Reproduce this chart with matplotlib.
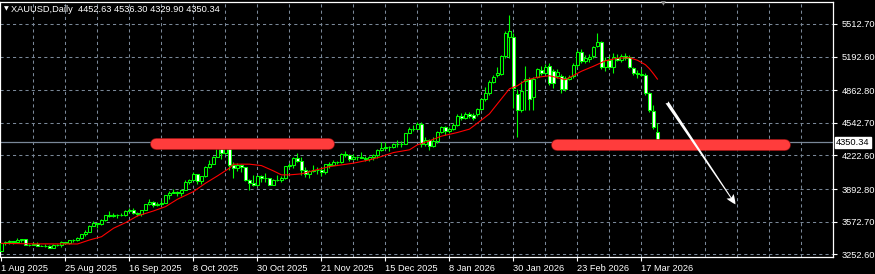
import matplotlib
matplotlib.use("Agg")
import matplotlib.pyplot as plt
import matplotlib.transforms as mtransforms
import matplotlib.patheffects as pe
from matplotlib.patches import Rectangle, FancyArrowPatch

# XAUUSD daily bars, 1 Aug 2025 .. 23 Mar 2026
opens = [3289, 3363, 3373, 3380, 3369, 3397, 3398, 3342, 3348, 3356,
         3338, 3336, 3332, 3316, 3348, 3339, 3372, 3365, 3393, 3397,
         3416, 3448, 3476, 3533, 3560, 3545, 3586, 3636, 3627, 3641,
         3634, 3643, 3679, 3690, 3660, 3644, 3685, 3746, 3763, 3736,
         3749, 3760, 3833, 3858, 3866, 3857, 3886, 3960, 3985, 4040,
         3976, 4017, 4110, 4142, 4208, 4323, 4251, 4356, 4125, 4095,
         4126, 4112, 3981, 3952, 3930, 4024, 4002, 4000, 3932, 3980,
         3977, 4000, 4115, 4128, 4194, 4172, 4084, 4045, 4066, 4078,
         4077, 4065, 4135, 4131, 4163, 4156, 4239, 4231, 4186, 4203,
         4208, 4197, 4189, 4208, 4229, 4280, 4300, 4304, 4302, 4339,
         4331, 4339, 4445, 4487, 4480, 4533, 4331, 4373, 4319, 4360,
         4455, 4497, 4458, 4480, 4518, 4605, 4595, 4630, 4620, 4625,
         4680, 4775, 4840, 4948, 5015, 5025, 5195, 5390, 5385, 4830,
         4670, 4950, 4970, 4800, 4995, 5065, 5035, 5100, 5055, 5005,
         5000, 4985, 4975, 4998, 5110, 5240, 5150, 5170, 5195, 5300,
         5335, 5095, 5160, 5090, 5180, 5160, 5195, 5190, 5080, 5030,
         5015, 5015, 4835, 4662, 4452.63]
highs = [3363, 3385, 3390, 3385, 3409, 3400, 3404, 3358, 3374, 3375,
         3345, 3358, 3345, 3350, 3351, 3379, 3376, 3394, 3398, 3423,
         3454, 3490, 3540, 3578, 3563, 3600, 3639, 3674, 3658, 3647,
         3655, 3685, 3703, 3707, 3672, 3687, 3749, 3791, 3779, 3761,
         3783, 3834, 3872, 3895, 3875, 3890, 3977, 3990, 4059, 4045,
         4022, 4116, 4179, 4218, 4326, 4380, 4381, 4360, 4162, 4146,
         4136, 4113, 3988, 4030, 4029, 4034, 4046, 4002, 3995, 4028,
         4020, 4120, 4149, 4210, 4245, 4210, 4110, 4082, 4132, 4110,
         4109, 4140, 4155, 4175, 4168, 4245, 4264, 4240, 4241, 4218,
         4259, 4220, 4218, 4234, 4285, 4353, 4350, 4311, 4342, 4374,
         4360, 4447, 4497, 4525, 4550, 4548, 4400, 4380, 4400, 4465,
         4510, 4510, 4500, 4540, 4625, 4640, 4645, 4650, 4635, 4690,
         4790, 4895, 4960, 5010, 5090, 5210, 5440, 5600, 5420, 4870,
         4950, 5100, 4990, 4990, 5085, 5100, 5120, 5130, 5070, 5070,
         5020, 5000, 5010, 5130, 5260, 5270, 5210, 5215, 5300, 5425,
         5345, 5190, 5200, 5230, 5220, 5215, 5230, 5210, 5095, 5060,
         5075, 5030, 4850, 4720, 4536.30]
lows = [3281, 3346, 3358, 3358, 3367, 3377, 3341, 3331, 3343, 3330,
        3332, 3324, 3315, 3311, 3332, 3321, 3352, 3351, 3371, 3385,
        3400, 3436, 3470, 3527, 3511, 3537, 3578, 3620, 3620, 3613,
        3625, 3633, 3676, 3646, 3628, 3628, 3683, 3736, 3718, 3722,
        3741, 3758, 3793, 3850, 3820, 3822, 3883, 3942, 3979, 3945,
        3944, 4008, 4096, 4136, 4203, 4186, 4237, 4082, 4004, 4070,
        4060, 3970, 3886, 3918, 3920, 3964, 3962, 3928, 3929, 3970,
        3963, 3995, 4100, 4095, 4156, 4032, 4008, 3998, 4060, 4040,
        4022, 4040, 4098, 4128, 4138, 4150, 4210, 4168, 4180, 4174,
        4195, 4170, 4167, 4176, 4196, 4265, 4286, 4271, 4299, 4308,
        4309, 4338, 4440, 4460, 4478, 4303, 4320, 4274, 4310, 4345,
        4440, 4420, 4440, 4470, 4510, 4570, 4585, 4595, 4575, 4605,
        4665, 4755, 4820, 4935, 4995, 5010, 5180, 5180, 4685, 4405,
        4650, 4670, 4670, 4670, 4980, 5010, 5020, 4910, 4880, 4980,
        4840, 4860, 4960, 4985, 5095, 5130, 5130, 5140, 5180, 5285,
        5070, 5050, 5075, 5030, 5150, 5140, 5160, 5080, 5010, 4980,
        5000, 4820, 4650, 4480, 4329.90]
closes = [3363, 3373, 3380, 3369, 3397, 3398, 3342, 3348, 3356, 3336,
          3335, 3332, 3316, 3348, 3339, 3372, 3365, 3393, 3397, 3416,
          3448, 3476, 3533, 3560, 3545, 3586, 3636, 3627, 3641, 3634,
          3643, 3679, 3690, 3660, 3644, 3685, 3746, 3763, 3736, 3749,
          3760, 3833, 3858, 3866, 3857, 3886, 3960, 3985, 4040, 3976,
          4017, 4110, 4142, 4208, 4323, 4251, 4356, 4125, 4095, 4126,
          4112, 3981, 3952, 3930, 4024, 4002, 4000, 3932, 3980, 3977,
          4000, 4115, 4128, 4194, 4172, 4084, 4045, 4066, 4078, 4077,
          4065, 4135, 4131, 4163, 4156, 4239, 4231, 4186, 4203, 4208,
          4197, 4189, 4208, 4229, 4280, 4300, 4304, 4302, 4339, 4331,
          4339, 4445, 4487, 4480, 4533, 4331, 4373, 4319, 4360, 4455,
          4497, 4458, 4480, 4518, 4605, 4595, 4630, 4610, 4592, 4680,
          4775, 4840, 4948, 4995, 5030, 5195, 5420, 5440, 4885, 4670,
          4860, 4975, 4780, 4970, 5070, 5035, 5095, 4930, 4935, 5045,
          4870, 4875, 4995, 5110, 5240, 5150, 5180, 5190, 5285, 5335,
          5090, 5155, 5090, 5185, 5160, 5195, 5175, 5095, 5030, 5020,
          5025, 4840, 4672, 4500, 4350.34]

# moving average (red line), read at selected bars
ma_bars = [0, 8, 19, 22, 25, 28, 31, 34, 38, 41, 44, 48, 51, 54, 57, 58,
           62, 65, 68, 70, 72, 75, 78, 82, 85, 88, 92, 95, 98, 102, 104,
           107, 110, 114, 117, 119, 122, 124, 127, 129, 131, 134, 137, 141,
           145, 148, 151, 154, 157, 159, 161, 162, 163, 164]
ma_vals = [3360, 3355, 3354, 3393, 3425, 3508, 3563, 3629, 3678, 3720,
           3793, 3868, 3950, 4022, 4098, 4137, 4137, 4123, 4071, 4032,
           4032, 4042, 4074, 4113, 4130, 4147, 4179, 4212, 4251, 4278,
           4327, 4366, 4412, 4448, 4481, 4540, 4631, 4730, 4877, 4907,
           4959, 4990, 5005, 4966, 5049, 5098, 5152, 5177, 5182, 5157,
           5113, 5074, 5025, 4972]

date_labels = ["1 Aug 2025", "25 Aug 2025", "16 Sep 2025", "8 Oct 2025",
               "30 Oct 2025", "21 Nov 2025", "15 Dec 2025", "8 Jan 2026",
               "30 Jan 2026", "23 Feb 2026", "17 Mar 2026"]
label_bars = [0, 16, 32, 48, 64, 80, 96, 112, 128, 144, 160]
price_levels = [5512.70, 5192.60, 4862.80, 4542.70, 4222.60, 3892.80,
                3572.70, 3252.60]
last_price = 4350.34
title = "XAUUSD,Daily  4452.63 4536.30 4329.90 4350.34"

# drawn objects: (start bar, end bar, price)
level_lines = [(38.75, 82.0, 4339.0), (139.0, 196.0, 4325.0)]
arrow_from = (166.0, 4767.0)
arrow_to = (183.9, 3720.0)

W, H = 875, 274
fam = ["Liberation Sans", "DejaVu Sans"]
fs = 6.7
fg = "white"
grid_c = "#7a8899"
bull = "#00ff00"

fig = plt.figure(figsize=(W / 100, H / 100), dpi=100, facecolor="black")
ax = fig.add_axes([0, 1 - 257.3 / H, 833 / W, 255.3 / H])
ax.set_facecolor("black")
ax.set_xlim(-0.375, 207.9)
ax.set_ylim(3223.1, 5728.6)

# grid
for p in price_levels:
    ax.axhline(p, color=grid_c, lw=0.75, ls=(0, (3, 3)), zorder=1)
for k in range(1, 26):
    ax.axvline(8 * k, color=grid_c, lw=0.75, ls=(0, (3, 3)), zorder=1)

ax.axhline(last_price, color="#7a8899", lw=0.9, zorder=1.5)

# candles
n = len(closes)
ax.vlines(range(n), lows, highs, color=bull, lw=0.8, zorder=2)
for i in range(n):
    o, c = opens[i], closes[i]
    face = "black" if c >= o else "white"
    lo = min(o, c)
    hgt = max(abs(c - o), 2)
    ax.add_patch(Rectangle((i - 0.27, lo), 0.54, hgt, facecolor=face,
                           edgecolor=bull, lw=0.75, zorder=3))

ax.plot(ma_bars, ma_vals, color="#ff0000", lw=0.8, zorder=4)

# level lines
for x0, x1, p in level_lines:
    ax.plot([x0, x1], [p, p], color="#ff3c3c", lw=7.4, solid_capstyle="round",
            zorder=6, path_effects=[pe.Stroke(linewidth=8.4, foreground="#a01515"),
                                    pe.Normal()])

arr = FancyArrowPatch(arrow_from, arrow_to,
                      arrowstyle="fancy,head_length=0.7,head_width=0.6,tail_width=0.25",
                      mutation_scale=10, color="white", lw=0, zorder=7)
ax.add_patch(arr)

# axes & ticks
for s in ax.spines.values():
    s.set_color("white")
    s.set_linewidth(0.9)
ax.yaxis.tick_right()
ax.set_yticks(price_levels)
ax.set_yticklabels([f"{p:.2f}" for p in price_levels])
ax.set_xticks(label_bars)
ax.set_xticklabels(date_labels)
ax.tick_params(axis="both", colors=fg, length=3, width=0.8, labelsize=fs,
               direction="out")
ax.tick_params(axis="y", pad=3)
ax.tick_params(axis="x", pad=1.5)
for t in ax.get_xticklabels():
    t.set_horizontalalignment("left")
    t.set_family(fam)
for t in ax.get_yticklabels():
    t.set_family(fam)

trans = mtransforms.blended_transform_factory(ax.transAxes, ax.transData)
ax.text(1.0 + 3 / 833, last_price, "4350.34", transform=trans, ha="left",
        va="center", fontsize=fs, family=fam, color="black", zorder=8,
        bbox=dict(facecolor="white", edgecolor="white", pad=1.0), clip_on=False)

# header
fig.text(4 / W, 1 - 9 / H, "\u25bc", color=fg, fontsize=4.5, va="center",
         family=["DejaVu Sans"])
fig.text(11 / W, 1 - 9 / H, title, color=fg, fontsize=fs, va="center",
         family=fam)
fig.text(663 / W, 1 - 4 / H, "\u25bc", color="#909090", fontsize=4.5,
         va="center", ha="center", family=["DejaVu Sans"])

fig.savefig("out.png", dpi=100, facecolor="black")
